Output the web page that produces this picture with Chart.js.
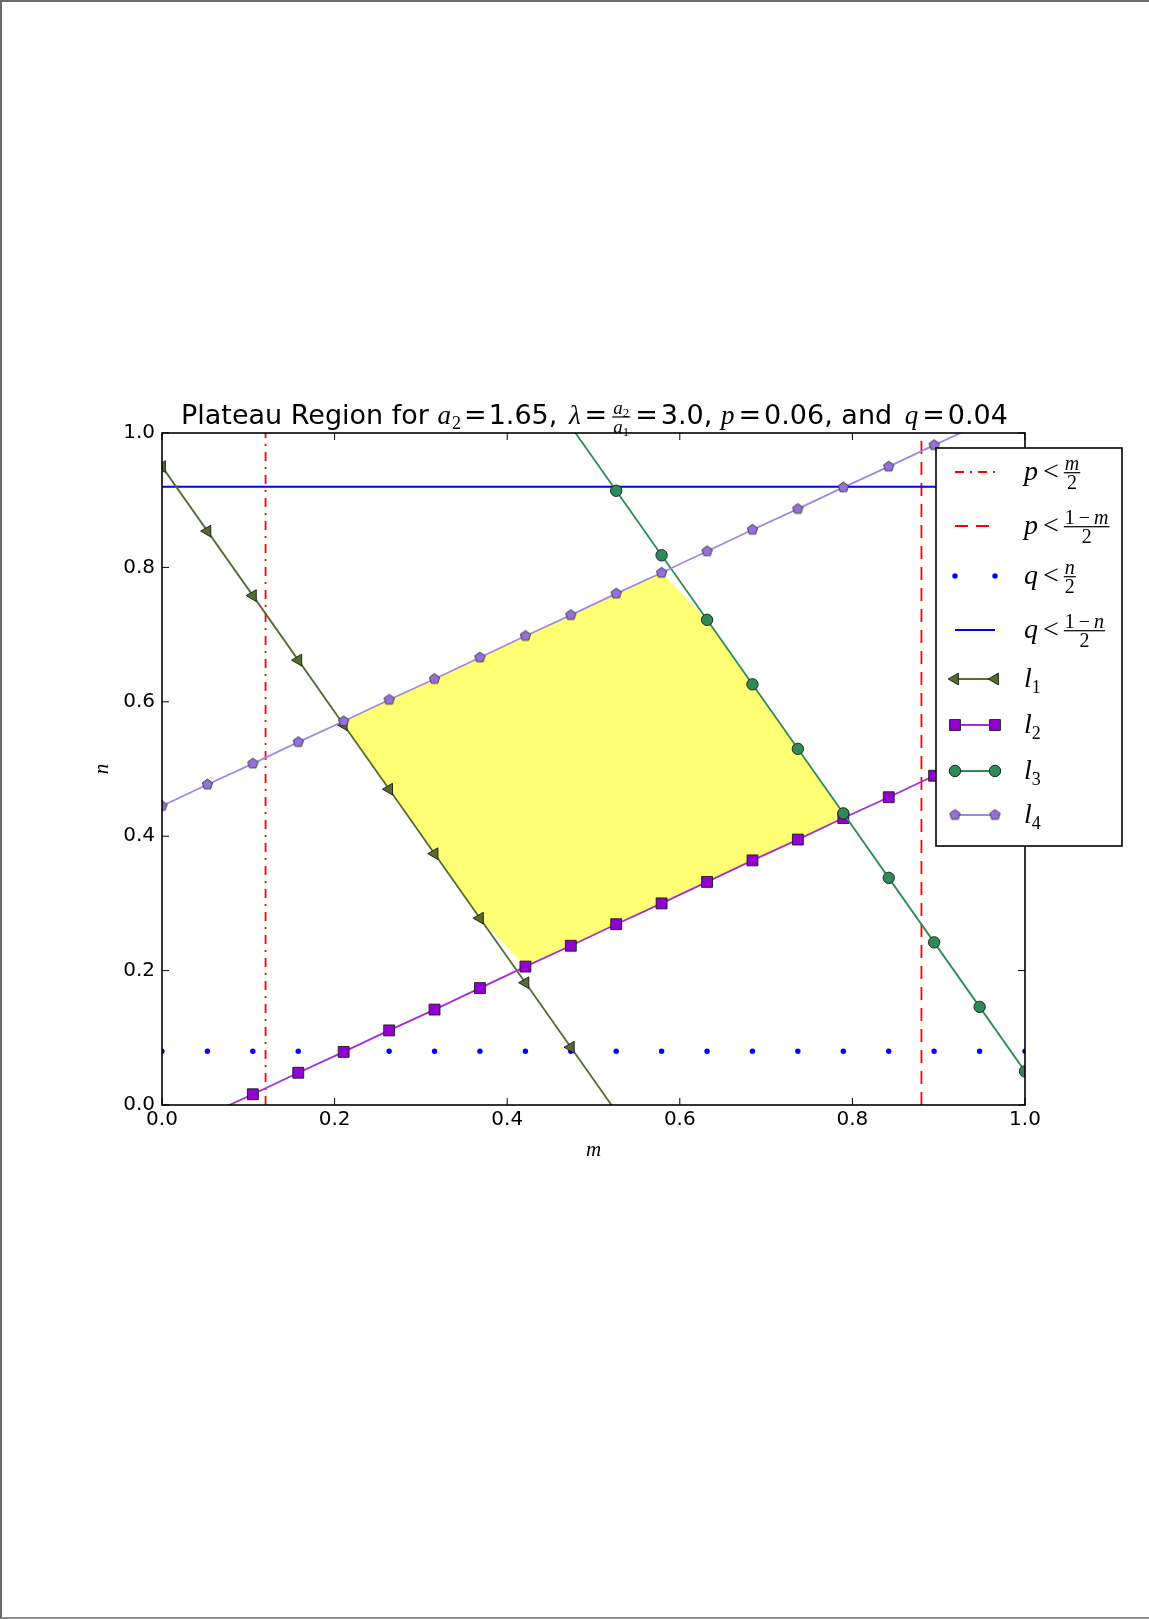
<!DOCTYPE html>
<html>
<head>
<meta charset="utf-8">
<title>Plateau Region</title>
<script src="https://cdn.jsdelivr.net/npm/chart.js@4.4.0/dist/chart.umd.min.js"></script>
<style>
  html, body { margin: 0; padding: 0; background: #fff; }
  #page { position: relative; width: 1149px; height: 1619px; }
  #pageEdge {
    position: absolute; left: 0; top: 0; width: 1149px; height: 1619px;
    box-sizing: border-box; pointer-events: none;
    border-left: 2px solid #6a6a6a; border-top: 2px solid #6a6a6a; border-bottom: 2px solid #8c8c8c;
  }
</style>
</head>
<body>
<div id="page">
  <canvas id="plateauChart" width="1149" height="1619"></canvas>
  <div id="pageEdge"></div>
</div>
<script>
// m samples shared by all the constraint lines
const mGrid = [0, 0.0526, 0.1053, 0.1579, 0.2105, 0.2632, 0.3158, 0.3684, 0.4211, 0.4737,
               0.5263, 0.5789, 0.6316, 0.6842, 0.7368, 0.7895, 0.8421, 0.8947, 0.9474, 1.0];

// n values of l1..l4 on mGrid
const l1 = [0.950, 0.854, 0.758, 0.662, 0.566, 0.470, 0.374, 0.278, 0.182, 0.086,
            -0.010, -0.106, -0.202, -0.298, -0.394, -0.490, -0.586, -0.682, -0.778, -0.874];
const l2 = [-0.047, -0.015, 0.016, 0.048, 0.079, 0.111, 0.142, 0.174, 0.206, 0.237,
            0.269, 0.300, 0.332, 0.364, 0.395, 0.427, 0.458, 0.490, 0.521, 0.553];
const l3 = [1.874, 1.778, 1.682, 1.586, 1.490, 1.394, 1.298, 1.202, 1.106, 1.010,
            0.914, 0.818, 0.722, 0.626, 0.530, 0.434, 0.338, 0.242, 0.146, 0.050];
const l4 = [0.445, 0.477, 0.508, 0.540, 0.571, 0.603, 0.634, 0.666, 0.698, 0.729,
            0.761, 0.792, 0.824, 0.856, 0.887, 0.919, 0.950, 0.982, 1.013, 1.045];

// p and q bounds: m > 2p, m < 1-2p, n > 2q, n < 1-2q
const pBounds = [0.12, 0.88];
const qBounds = [0.08, 0.92];
const axisSpan = [0, 1];

// plateau region (between max(l1,l2) and min(l3,l4))
const regionM = [0.2105, 0.2632, 0.3158, 0.3684, 0.4211, 0.4737, 0.5263, 0.5789, 0.6316, 0.6842, 0.7368, 0.7895];
const regionLow = [0.566, 0.470, 0.374, 0.278, 0.206, 0.237, 0.269, 0.300, 0.332, 0.364, 0.395, 0.427];
const regionHigh = [0.571, 0.603, 0.634, 0.666, 0.698, 0.729, 0.761, 0.792, 0.722, 0.626, 0.530, 0.434];

const tickValues = [0, 0.2, 0.4, 0.6, 0.8, 1.0];

const SANS = '"DejaVu Sans", sans-serif';
const SERIF = '"Liberation Serif", "DejaVu Serif", serif';
const OPS = '"DejaVu Serif", serif';

const toPoints = (xs, ys) => xs.map((x, i) => ({ x: x, y: ys[i] }));

// pentagon marker for l4 (Chart.js has no built-in pentagon)
function pentagonMarker(r, fill, edge) {
    const c = document.createElement('canvas');
    const s = Math.ceil(2 * r + 4);
    c.width = s;
    c.height = s;
    const g = c.getContext('2d');
    g.beginPath();
    for (let i = 0; i < 5; i++) {
        const a = -Math.PI / 2 + i * 2 * Math.PI / 5;
        g.lineTo(s / 2 + r * Math.cos(a), s / 2 + r * Math.sin(a));
    }
    g.closePath();
    g.fillStyle = fill;
    g.fill();
    g.lineWidth = 0.9;
    g.strokeStyle = edge;
    g.stroke();
    return c;
}

// ---- rich text (mathtext-like) for title and legend ----
const it = (t, size, dy) => ({ text: t, size: size, kind: 'it', dy: dy || 0 });
const rm = (t, size, dy) => ({ text: t, size: size, kind: 'rm', dy: dy || 0 });
const op = (t, size, dy) => ({ text: t, size: size, kind: 'op', dy: dy || 0 });
const sf = (t, size, dy) => ({ text: t, size: size, kind: 'sf', dy: dy || 0 });
const gap = (w) => ({ gap: w });
const frac = (num, den, size) => ({ frac: true, num: num, den: den, size: size });

function fontFor(r) {
    if (r.kind === 'sf') return r.size + 'px ' + SANS;
    if (r.kind === 'it') return 'italic ' + r.size + 'px ' + SERIF;
    if (r.kind === 'op') return r.size + 'px ' + OPS;
    return r.size + 'px ' + SERIF;
}

function runsWidth(ctx, runs) {
    let w = 0;
    for (const r of runs) w += runWidth(ctx, r);
    return w;
}

function runWidth(ctx, r) {
    if (r.gap !== undefined) return r.gap;
    if (r.frac) return Math.max(runsWidth(ctx, r.num), runsWidth(ctx, r.den)) + 4;
    ctx.font = fontFor(r);
    return ctx.measureText(r.text).width;
}

function drawRuns(ctx, runs, x, y) {
    for (const r of runs) {
        const w = runWidth(ctx, r);
        if (r.frac) {
            const bar = y - r.size * 0.26;
            const nw = runsWidth(ctx, r.num);
            const dw = runsWidth(ctx, r.den);
            const dsz = r.den[0].size;
            drawRuns(ctx, r.num, x + (w - nw) / 2, bar - 3);
            drawRuns(ctx, r.den, x + (w - dw) / 2, bar + 3 + dsz * 0.68);
            ctx.fillRect(x + 1, bar - 0.6, w - 2, 1.2);
        } else if (r.gap === undefined) {
            ctx.font = fontFor(r);
            ctx.fillText(r.text, x, y + r.dy);
        }
        x += w;
    }
}

const titleRuns = [
    sf('Plateau Region for ', 27),
    it('a', 27), gap(1), rm('2', 18, 5), gap(3), op('=', 27), gap(2), sf('1.65, ', 27),
    gap(3), it('\u03bb', 27), gap(4), op('=', 27), gap(4),
    frac([it('a', 19), rm('2', 13, 3)], [it('a', 19), rm('1', 13, 3)], 27),
    gap(4), op('=', 27), gap(3), sf('3.0, ', 27),
    it('p', 27), gap(4), op('=', 27), gap(3), sf('0.06, and ', 27),
    gap(4), it('q', 27), gap(4), op('=', 27), gap(3), sf('0.04', 27)
];

const legendRuns = {
    pLow: [it('p', 28), gap(5), rm('<', 28), gap(4), frac([it('m', 20)], [rm('2', 20)], 28)],
    pHigh: [it('p', 28), gap(5), rm('<', 28), gap(4),
            frac([rm('1', 20), gap(4), rm('\u2212', 20), gap(4), it('m', 20)], [rm('2', 20)], 28)],
    qLow: [it('q', 28), gap(5), rm('<', 28), gap(4), frac([it('n', 20)], [rm('2', 20)], 28)],
    qHigh: [it('q', 28), gap(5), rm('<', 28), gap(4),
            frac([rm('1', 20), gap(4), rm('\u2212', 20), gap(4), it('n', 20)], [rm('2', 20)], 28)],
    l1: [it('l', 28), rm('1', 18, 6)],
    l2: [it('l', 28), rm('2', 18, 6)],
    l3: [it('l', 28), rm('3', 18, 6)],
    l4: [it('l', 28), rm('4', 18, 6)]
};
const legendOrder = ['pLow', 'pHigh', 'qLow', 'qHigh', 'l1', 'l2', 'l3', 'l4'];
const legendRowY = [24, 78, 128, 182, 231, 277, 323, 367];

// frame and inward ticks on all four sides
const plateauFrame = {
    id: 'plateauFrame',
    afterDatasetsDraw(chart) {
        const { ctx, chartArea: a, scales } = chart;
        ctx.save();
        ctx.strokeStyle = '#000';
        ctx.lineWidth = 1;
        ctx.beginPath();
        for (const v of tickValues) {
            const px = scales.x.getPixelForValue(v);
            ctx.moveTo(px, a.bottom); ctx.lineTo(px, a.bottom - 7);
            ctx.moveTo(px, a.top); ctx.lineTo(px, a.top + 7);
            const py = scales.y.getPixelForValue(v);
            ctx.moveTo(a.left, py); ctx.lineTo(a.left + 7, py);
            ctx.moveTo(a.right, py); ctx.lineTo(a.right - 7, py);
        }
        ctx.stroke();
        ctx.lineWidth = 1.6;
        ctx.strokeRect(a.left, a.top, a.right - a.left, a.bottom - a.top);
        ctx.restore();
    }
};

const plateauTitle = {
    id: 'plateauTitle',
    afterDraw(chart) {
        const { ctx, chartArea: a } = chart;
        ctx.save();
        ctx.fillStyle = '#000';
        ctx.textBaseline = 'alphabetic';
        const w = runsWidth(ctx, titleRuns);
        drawRuns(ctx, titleRuns, (a.left + a.right) / 2 + 1 - w / 2, a.top - 9);
        ctx.restore();
    }
};

const plateauLegend = {
    id: 'plateauLegend',
    afterDraw(chart) {
        const { ctx, chartArea: a } = chart;
        const box = { left: a.right - 89, top: a.top + 15, right: a.right + 97, bottom: a.top + 413 };
        ctx.save();
        ctx.fillStyle = '#fff';
        ctx.fillRect(box.left, box.top, box.right - box.left, box.bottom - box.top);
        ctx.strokeStyle = '#000';
        ctx.lineWidth = 1.6;
        ctx.strokeRect(box.left, box.top, box.right - box.left, box.bottom - box.top);

        const byLabel = {};
        chart.data.datasets.forEach(ds => { byLabel[ds.label] = ds; });
        const x0 = box.left + 19, x1 = box.left + 59, tx = box.left + 88;

        legendOrder.forEach((key, i) => {
            const ds = byLabel[key];
            const y = box.top + legendRowY[i];
            if (ds.showLine !== false) {
                ctx.strokeStyle = ds.borderColor;
                ctx.lineWidth = ds.borderWidth;
                ctx.setLineDash(ds.borderDash || []);
                ctx.beginPath();
                ctx.moveTo(x0, y);
                ctx.lineTo(x1, y);
                ctx.stroke();
                ctx.setLineDash([]);
            }
            if (ds.pointRadius > 0) {
                ctx.fillStyle = ds.pointBackgroundColor;
                ctx.strokeStyle = ds.pointBorderColor;
                ctx.lineWidth = ds.pointBorderWidth;
                for (const px of [x0, x1]) {
                    Chart.helpers.drawPoint(ctx, {
                        pointStyle: ds.pointStyle,
                        rotation: ds.pointRotation || 0,
                        radius: ds.pointRadius,
                        borderWidth: ds.pointBorderWidth
                    }, px, y);
                }
            }
            ctx.fillStyle = '#000';
            drawRuns(ctx, legendRuns[key], tx, y + 8);
        });
        ctx.restore();
    }
};

const ctxPlateau = document.getElementById('plateauChart').getContext('2d');

const plateauChart = new Chart(ctxPlateau, {
    type: 'line',
    data: {
        datasets: [
            {
                label: 'l4',
                data: toPoints(mGrid, l4),
                borderColor: '#a287e3',
                borderWidth: 1.8,
                pointStyle: pentagonMarker(5.4, '#9370db', '#333'),
                pointRadius: 5.4,
                pointBackgroundColor: '#9370db',
                pointBorderColor: '#333',
                pointBorderWidth: 0.9,
                clip: 0
            },
            {
                label: 'l3',
                data: toPoints(mGrid, l3),
                borderColor: '#2e8b57',
                borderWidth: 1.8,
                pointStyle: 'circle',
                pointRadius: 5.7,
                pointBackgroundColor: '#2e8b57',
                pointBorderColor: '#1a1a1a',
                pointBorderWidth: 0.9,
                clip: 0
            },
            {
                label: 'l2',
                data: toPoints(mGrid, l2),
                borderColor: '#a22ddb',
                borderWidth: 1.8,
                pointStyle: 'rect',
                pointRadius: 7.7,
                pointBackgroundColor: '#9400d3',
                pointBorderColor: '#1a1a1a',
                pointBorderWidth: 0.9,
                clip: 0
            },
            {
                label: 'l1',
                data: toPoints(mGrid, l1),
                borderColor: '#556b2f',
                borderWidth: 1.8,
                pointStyle: 'triangle',
                pointRotation: -90,
                pointRadius: 6.8,
                pointBackgroundColor: '#556b2f',
                pointBorderColor: '#1a1a1a',
                pointBorderWidth: 0.9,
                clip: 0
            },
            {
                label: 'qHigh',
                data: toPoints(axisSpan, [qBounds[1], qBounds[1]]),
                borderColor: '#0000ff',
                borderWidth: 1.8,
                pointRadius: 0,
                clip: 0
            },
            {
                label: 'qLow',
                data: toPoints(mGrid, mGrid.map(() => qBounds[0])),
                showLine: false,
                pointStyle: 'circle',
                pointRadius: 2.7,
                pointBackgroundColor: '#0000ff',
                pointBorderColor: '#0000ff',
                pointBorderWidth: 0,
                borderColor: '#0000ff',
                clip: 0
            },
            {
                label: 'pHigh',
                data: toPoints([pBounds[1], pBounds[1]], axisSpan),
                borderColor: '#ff0000',
                borderWidth: 1.8,
                borderDash: [13, 8],
                pointRadius: 0,
                clip: 0
            },
            {
                label: 'pLow',
                data: toPoints([pBounds[0], pBounds[0]], axisSpan),
                borderColor: '#ff0000',
                borderWidth: 1.8,
                borderDash: [9, 6, 2, 6],
                pointRadius: 0,
                clip: 0
            },
            {
                label: 'regionHigh',
                data: toPoints(regionM, regionHigh),
                borderWidth: 0,
                pointRadius: 0,
                backgroundColor: 'rgba(255, 255, 0, 0.55)',
                fill: '+1',
                clip: 0
            },
            {
                label: 'regionLow',
                data: toPoints(regionM, regionLow),
                borderWidth: 0,
                pointRadius: 0,
                fill: false,
                clip: 0
            }
        ]
    },
    options: {
        responsive: false,
        animation: false,
        events: [],
        layout: { padding: { left: 90, top: 433, right: 124, bottom: 456 } },
        plugins: {
            legend: { display: false },
            title: { display: false },
            tooltip: { enabled: false }
        },
        scales: {
            x: {
                type: 'linear',
                min: 0,
                max: 1,
                grid: { display: false, drawTicks: false },
                border: { display: false },
                afterBuildTicks: (scale) => { scale.ticks = tickValues.map(v => ({ value: v })); },
                afterFit: (scale) => { scale.height = 58; },
                ticks: {
                    padding: 3,
                    color: '#000',
                    maxRotation: 0,
                    autoSkip: false,
                    font: { family: SANS, size: 20 },
                    callback: (v) => Number(v).toFixed(1)
                },
                title: {
                    display: true,
                    text: 'm',
                    color: '#000',
                    padding: 0,
                    font: { family: SERIF, size: 21, style: 'italic' }
                }
            },
            y: {
                type: 'linear',
                min: 0,
                max: 1,
                grid: { display: false, drawTicks: false },
                border: { display: false },
                afterBuildTicks: (scale) => { scale.ticks = tickValues.map(v => ({ value: v })); },
                afterFit: (scale) => { scale.width = 72; },
                ticks: {
                    padding: 7,
                    color: '#000',
                    autoSkip: false,
                    font: { family: SANS, size: 20 },
                    callback: (v) => Number(v).toFixed(1)
                },
                title: {
                    display: true,
                    text: 'n',
                    color: '#000',
                    padding: 0,
                    font: { family: SERIF, size: 21, style: 'italic' }
                }
            }
        }
    },
    plugins: [plateauFrame, plateauTitle, plateauLegend]
});
</script>
</body>
</html>
